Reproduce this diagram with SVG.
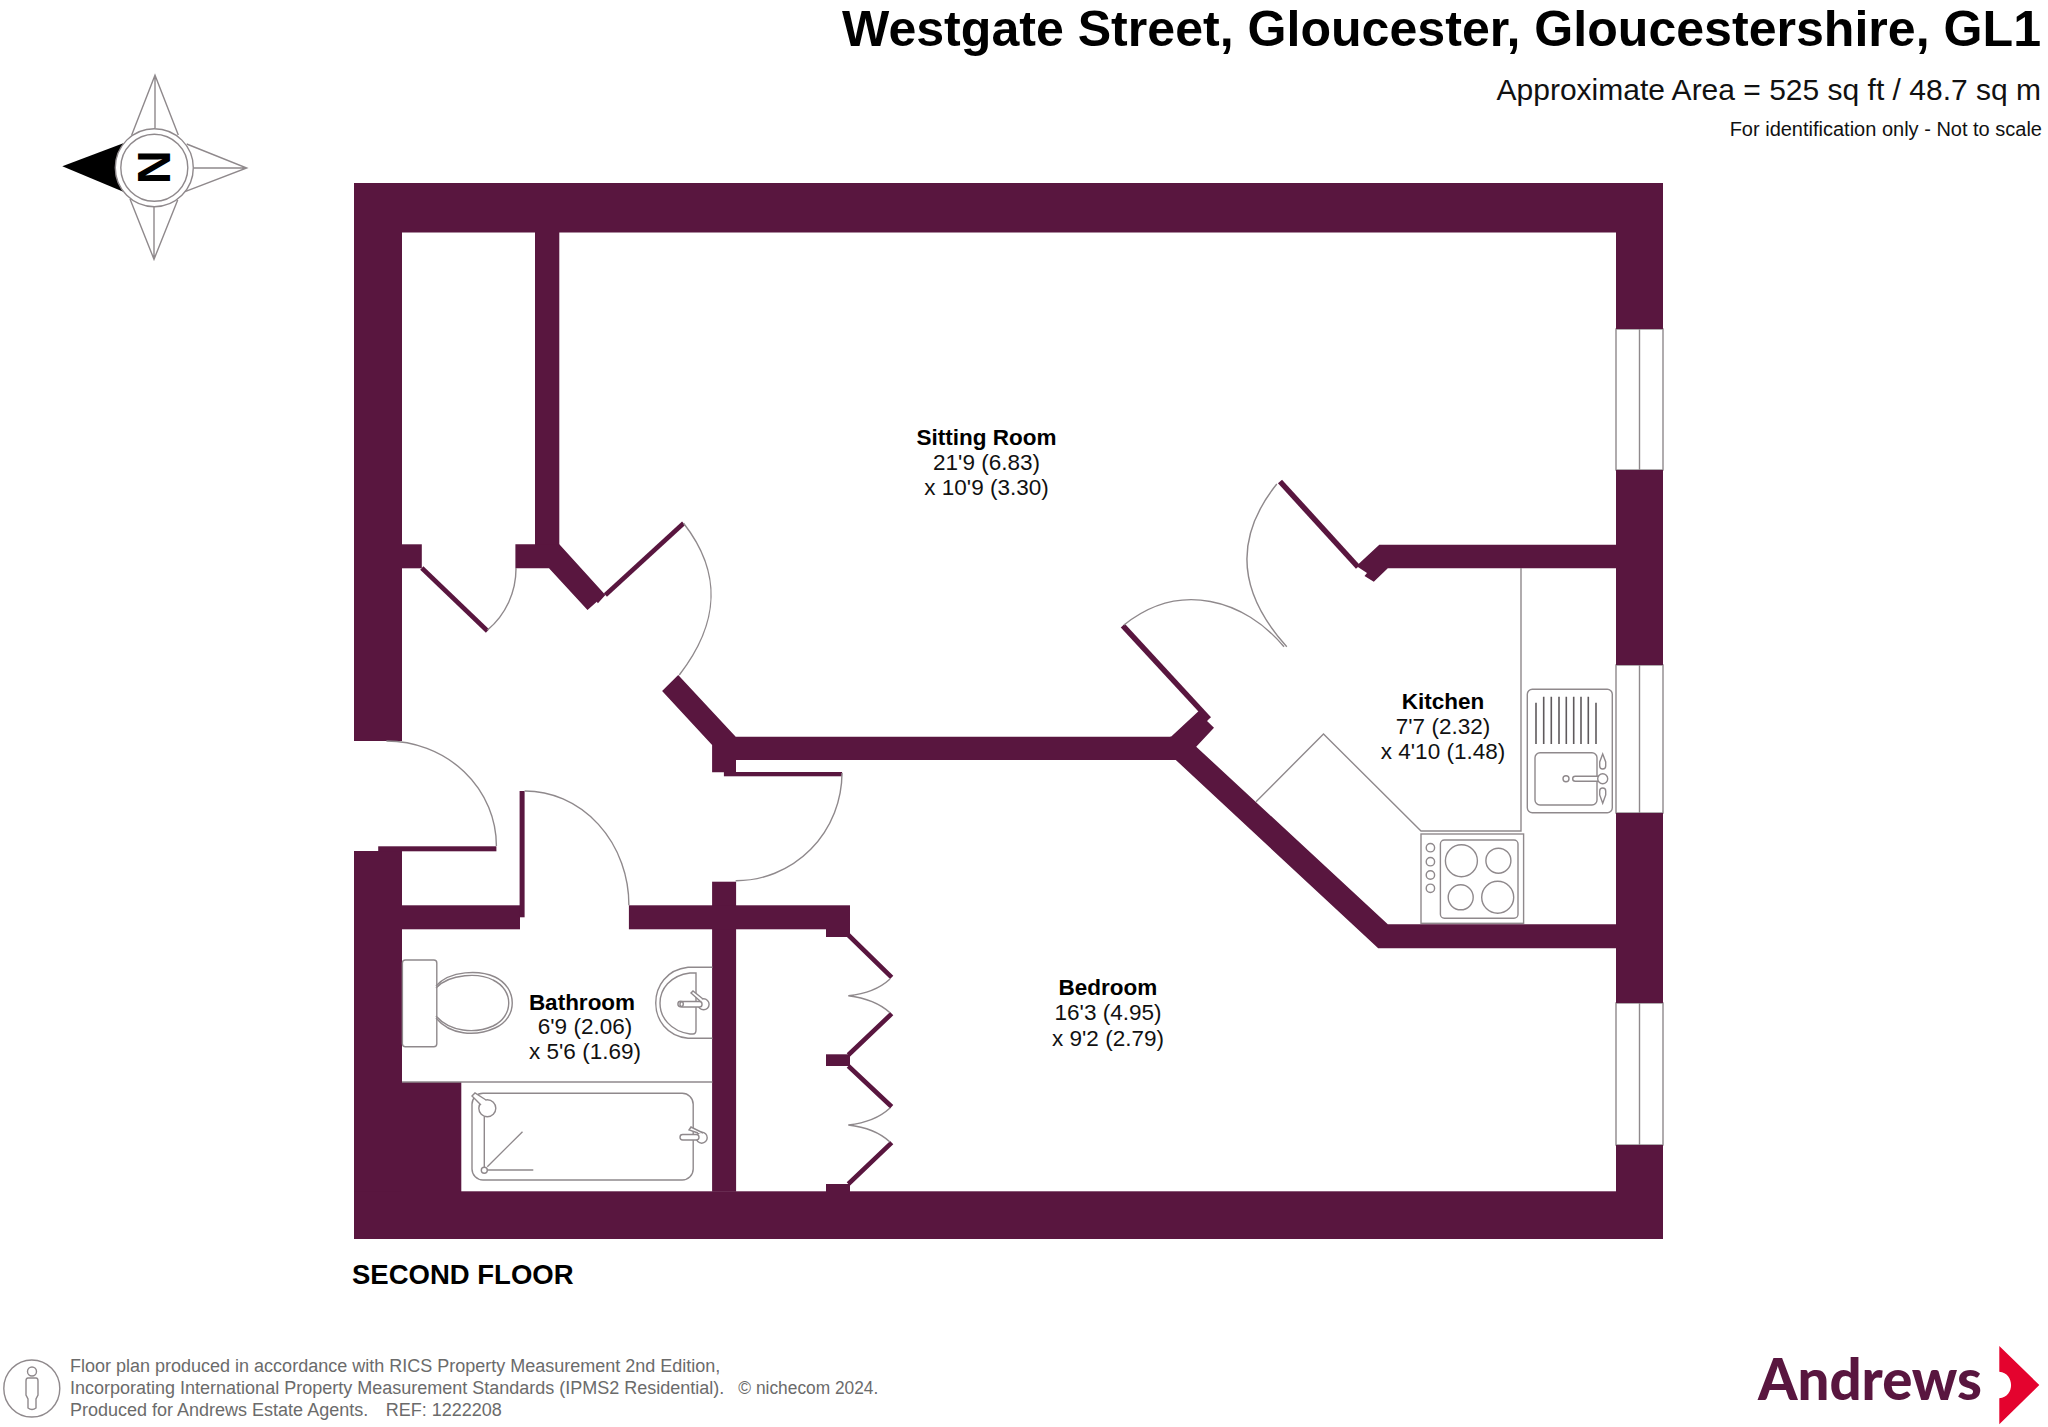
<svg xmlns="http://www.w3.org/2000/svg" width="2048" height="1427" viewBox="0 0 2048 1427">
<style>
text{font-family:"Liberation Sans",Arial,sans-serif;fill:#000;white-space:pre}
.wall{fill:#59163f}
.leaf{stroke:#59163f;stroke-width:4.6;fill:none}
.ln{stroke:#8f898c;stroke-width:1.4;fill:none}
.sw{stroke:#8f898c;stroke-width:1.4;fill:#fff}
.b{font-weight:bold;font-size:22.5px}
.r{font-size:22.5px;fill:#111}
.f{font-size:18px;fill:#6b6b6b}
.m{text-anchor:middle}
.e{text-anchor:end}
</style>
<rect width="2048" height="1427" fill="#fff"/>
<g id="title">
<text class="e b" x="2041" y="46" style="font-size:50.1px">Westgate Street, Gloucester, Gloucestershire, GL1</text>
<text class="e" x="2041" y="100" style="font-size:30px;fill:#111">Approximate Area = 525 sq ft / 48.7 sq m</text>
<text class="e" x="2042" y="135.6" style="font-size:20px;fill:#111">For identification only - Not to scale</text>
</g>
<g id="compass">
<path class="ln" d="M131.7,135 155,75.3 178.3,135M155,75.3V128M186.7,144 246.7,168 185,191.7M246.7,168H194M130,199 154,259.3 177.7,200M154,259.3V207"/>
<path d="M123.3,143.3 62.3,166.3 123.3,191.7Z" fill="#000"/>
<circle class="sw" cx="154.3" cy="167.7" r="39"/>
<circle class="sw" cx="154.3" cy="167.7" r="33.5"/>
<text class="b m" transform="translate(137.5,167.3) rotate(90)" x="0" y="0" style="font-size:47px">N</text>
</g>
<g id="windows">
<rect class="ln" x="1616" y="329" width="47" height="141"/><path class="ln" d="M1639.5,329V470"/>
<rect class="ln" x="1616" y="665" width="47" height="148"/><path class="ln" d="M1639.5,665V813"/>
<rect class="ln" x="1616" y="1003" width="47" height="142"/><path class="ln" d="M1639.5,1003V1145"/>
</g>
<g id="walls" class="wall">
<rect x="354" y="183" width="1309" height="49.5"/>
<rect x="354" y="183" width="48" height="558"/>
<rect x="354" y="851" width="48" height="388"/>
<rect x="354" y="1191.3" width="1309" height="47.7"/>
<rect x="402" y="1082" width="59.3" height="110"/>
<rect x="1616" y="183" width="47" height="146"/>
<rect x="1616" y="470" width="47" height="195"/>
<rect x="1616" y="813" width="47" height="190"/>
<rect x="1616" y="1145" width="47" height="94"/>
<rect x="535" y="232" width="24.3" height="320"/>
<rect x="402" y="544.3" width="19.8" height="24"/>
<path d="M515.4,544.3H559.3L605.4,595 597.9,603.3 596.8,601.8 587.5,610 549,568.3H515.4Z"/>
<path d="M678.2,675 735.7,736.7H1176V760H736V772.3H712.1V745L662.1,691Z"/>
<path d="M1379.3,544.7H1616V568.3H1387.8L1373.8,581.7 1364.5,576 1367,573 1356.4,566Z"/>
<path d="M1171,736.7 1199,710.7 1209,718.3 1207,721 1214,727.7 1196.2,746.7 1387.8,924.3H1616V948.3H1378.2L1175.8,760H1170V736.7Z"/>
<rect x="712.1" y="881.7" width="24" height="310"/>
<rect x="402" y="905.3" width="118" height="24"/>
<rect x="628.9" y="905.3" width="221.1" height="24"/>
<rect x="826" y="929" width="24" height="8"/>
<rect x="826" y="1054.3" width="24" height="11.7"/>
<rect x="826" y="1184" width="24" height="8"/>
<rect x="378.2" y="846.3" width="118.2" height="5"/>
<rect x="519.6" y="791" width="5" height="126.3"/>
<rect x="723.9" y="772" width="118.2" height="4.3"/>
</g>
<g id="doors">
<path class="leaf" d="M421.8,568 487.5,631"/>
<path class="ln" d="M487.5,630A80,80 0 0 0 516,568"/>
<path class="leaf" d="M605.4,595 683.6,523.3"/>
<path class="ln" d="M683.6,523.3C724,575 718,625 679.3,675"/>
<path class="ln" d="M842,773A106,108 0 0 1 735.7,880.7"/>
<path class="ln" d="M386.4,741A110,105 0 0 1 496.4,846"/>
<path class="ln" d="M524.6,791A104,114 0 0 1 628.9,905.3"/>
<path class="leaf" style="stroke-width:5.5" d="M1358,567 1280,481.5"/>
<path class="ln" d="M1276.8,484C1232,540 1240,595 1286.8,646.7"/>
<path class="leaf" style="stroke-width:5.5" d="M1209,719 1122.8,625.7"/>
<path class="ln" d="M1124,625C1180,580 1245,600 1284,646.7"/>
<path class="leaf" d="M848.3,935 891.7,977.3M891.7,1013.7 848.3,1055M848.3,1066 891.7,1106.7M891.7,1142.7 848.3,1184"/>
<path class="ln" d="M890,979Q875,993 848.3,995.7Q875,999 890,1012.7M890,1108Q875,1122 848.3,1125Q875,1128 890,1142"/>
</g>
<g id="bathroom-fittings">
<path class="ln" d="M402,1082H712.4"/>
<rect class="ln" x="402.4" y="960" width="34.4" height="86.7" rx="3"/>
<path class="ln" d="M436,986C450,970 480,970 495,977 518,988 518,1018 495,1028 475,1037 450,1035 436,1018"/>
<path class="ln" d="M436,988C450,973 480,973 493,980 514,990 514,1016 493,1026 475,1034 450,1032 436,1016"/>
<path class="ln" d="M712.4,967.3H688C645,972 645,1034 688,1038.3H712.4"/>
<path class="ln" d="M696,973H690C650,978 650,1028 690,1034H693Q696,1034 696,1030Z"/>
<circle class="sw" cx="703.6" cy="1004.3" r="5.5"/>
<path class="sw" d="M700,1001 691,993 693,991 703,999"/>
<rect class="sw" x="680" y="1001.5" width="22" height="5.5" rx="2.5"/>
<circle class="ln" cx="680.6" cy="1004" r="2.7"/>
<rect class="ln" x="472" y="1093.3" width="221.2" height="86.7" rx="11"/>
<circle class="sw" cx="487.3" cy="1108.3" r="8.5"/>
<path class="sw" d="M481,1105 472,1096 475,1093 486,1100"/>
<path class="ln" d="M484.3,1117V1167M487,1170H533.3M487.3,1166.7 522.5,1131.7"/>
<circle class="ln" cx="484.3" cy="1170.3" r="3"/>
<circle class="sw" cx="701.7" cy="1137.7" r="5.5"/>
<rect class="sw" x="680" y="1134.5" width="19" height="5.5" rx="2.7"/>
<path class="sw" d="M698,1133 689,1130 691,1127 703,1133"/>
</g>
<g id="kitchen-fittings">
<path class="ln" d="M1521,568V831H1421L1323.5,734 1256,801.7"/>
<rect class="ln" x="1421" y="834" width="102.6" height="89.3"/>
<rect class="ln" x="1440.4" y="840" width="77.6" height="78.3" rx="4"/>
<circle class="ln" cx="1461.4" cy="860.7" r="16"/>
<circle class="ln" cx="1498.4" cy="860.7" r="12.5"/>
<circle class="ln" cx="1460.7" cy="897.3" r="12.5"/>
<circle class="ln" cx="1497.7" cy="897.3" r="16"/>
<circle class="ln" cx="1430.4" cy="847.7" r="4.2"/>
<circle class="ln" cx="1430.4" cy="861.7" r="4.2"/>
<circle class="ln" cx="1430.4" cy="875" r="4.2"/>
<circle class="ln" cx="1430.4" cy="888.3" r="4.2"/>
<rect class="ln" x="1527.3" y="689.3" width="85" height="123.4" rx="5"/>
<path class="ln" style="stroke:#5f5a5d;stroke-width:1.6" d="M1536,702.7V744M1543.7,696.7V744M1551.3,696.7V744M1559,696.7V744M1566.3,696.7V744M1573.7,696.7V744M1581,696.7V744M1588.3,696.7V744M1596,702.7V744"/>
<rect class="ln" x="1535" y="752.7" width="62" height="52.3" rx="5"/>
<circle class="ln" cx="1566" cy="778.7" r="3"/>
<rect class="sw" x="1572.7" y="776.2" width="28" height="5" rx="2.5"/>
<circle class="sw" cx="1602.7" cy="778.7" r="5"/>
<path class="ln" d="M1602.7,754 1605.7,762V766A3,3 0 0 1 1599.7,766V762ZM1602.7,803.3 1605.7,795V791A3,3 0 0 0 1599.7,791V795Z"/>
</g>
<g id="room-labels">
<g id="sitting-room"><text class="b m" x="986.5" y="445">Sitting Room</text><text class="r m" x="986.5" y="470">21'9 (6.83)</text><text class="r m" x="986.5" y="495">x 10'9 (3.30)</text></g>
<g id="kitchen"><text class="b m" x="1443" y="708.7">Kitchen</text><text class="r m" x="1443" y="734">7'7 (2.32)</text><text class="r m" x="1443" y="759">x 4'10 (1.48)</text></g>
<g id="bedroom"><text class="b m" x="1108" y="995">Bedroom</text><text class="r m" x="1108" y="1020">16'3 (4.95)</text><text class="r m" x="1108" y="1045.5">x 9'2 (2.79)</text></g>
<g id="bathroom"><text class="b m" x="582" y="1009.5">Bathroom</text><text class="r m" x="585" y="1034">6'9 (2.06)</text><text class="r m" x="585" y="1059">x 5'6 (1.69)</text></g>
<text class="b" x="352" y="1284" style="font-size:27.5px">SECOND FLOOR</text>
</g>
<g id="footer">
<ellipse class="ln" cx="31.8" cy="1388.5" rx="28" ry="28.5"/>
<circle class="ln" cx="32" cy="1371.5" r="4.5"/>
<path class="ln" d="M28,1378H36Q38,1378 38,1381V1395L36,1399V1408Q32,1411 28,1408V1399L26,1395V1381Q26,1378 28,1378Z"/>
<text class="f" x="70" y="1372">Floor plan produced in accordance with RICS Property Measurement 2nd Edition,</text>
<text class="f" x="70" y="1394">Incorporating International Property Measurement Standards (IPMS2 Residential).   <tspan dx="-1" textLength="140" lengthAdjust="spacingAndGlyphs">© nichecom 2024.</tspan></text>
<text class="f" x="70" y="1416">Produced for Andrews Estate Agents.   <tspan dx="2.5">REF: 1222208</tspan></text>
</g>
<g id="logo">
<text x="1758" y="1399.5" textLength="224" lengthAdjust="spacingAndGlyphs" style="font-family:Lato,sans-serif;font-weight:900;font-size:57px;fill:#59163f">Andrews</text>
<path d="M1999.3,1346 2039.3,1385 1999.3,1424.3V1398.3C2015,1397 2015,1373 1999.3,1371.7Z" fill="#e4032e"/>
</g>
</svg>
